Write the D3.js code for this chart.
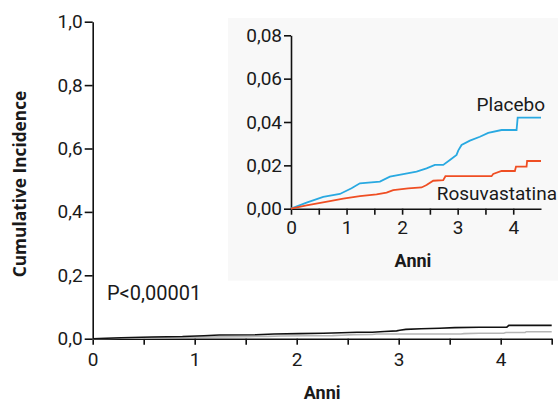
<!DOCTYPE html>
<html lang="it">
<head>
<meta charset="UTF-8">
<title>Cumulative Incidence</title>
<script src="https://d3js.org/d3.v7.min.js"></script>
<style>
    body { margin: 0; background: #fff; }
    text { font-family: Roboto, "Noto Sans", sans-serif; fill: #1a1a1a; }
    .axis path, .axis line { stroke: #111; }
    .axis text { font-size: 19px; fill: #1a1a1a; font-family: Roboto, sans-serif; }
    .title { font-weight: bold; font-size: 18px; }
    .label { font-size: 19px; }
</style>
</head>
<body>
<script>
    // anni / incidenza cumulativa
    var placeboT = [0, 0.28, 0.58, 0.88, 1.09, 1.24, 1.6, 1.78, 2.02, 2.26, 2.44, 2.59, 2.74, 2.86, 2.98, 3.01, 3.07, 3.22, 3.40, 3.55, 3.79, 4.06, 4.08, 4.5];
    var placeboV = [0, 0.0028, 0.0055, 0.0068, 0.0094, 0.0117, 0.0125, 0.0148, 0.016, 0.0171, 0.0186, 0.0202, 0.0202, 0.0225, 0.0248, 0.0268, 0.0294, 0.0314, 0.0332, 0.035, 0.0363, 0.0363, 0.042, 0.042];
    var rosuT = [0, 0.28, 0.7, 0.94, 1.24, 1.54, 1.72, 1.84, 2.11, 2.35, 2.44, 2.56, 2.74, 2.78, 3.61, 3.64, 3.79, 4.03, 4.05, 4.24, 4.25, 4.5];
    var rosuV = [0, 0.0015, 0.0035, 0.0046, 0.0058, 0.0066, 0.0074, 0.0086, 0.0094, 0.0098, 0.0109, 0.0129, 0.0132, 0.015, 0.015, 0.016, 0.0174, 0.0174, 0.0194, 0.0194, 0.022, 0.022];

    var xTicks = [0, 1, 2, 3, 4];
    var mainYTicks = [0, 0.2, 0.4, 0.6, 0.8, 1.0];
    var insetYTicks = [0, 0.02, 0.04, 0.06, 0.08];

    var placebo = placeboT.map(function (t, i) { return [t, placeboV[i]]; });
    var rosu = rosuT.map(function (t, i) { return [t, rosuV[i]]; });

    var fmt = function (d, n) { return d.toFixed(n).replace('.', ','); };

    var width = 558, height = 403;
    var svg = d3.select('body').append('svg')
        .attr('width', width)
        .attr('height', height);

    // ---- grafico principale
    var x = d3.scaleLinear().domain([0, 4.5]).range([92.7, 551.7]);
    var y = d3.scaleLinear().domain([0, 1]).range([338.7, 21.7]);

    var line = d3.line()
        .x(function (d) { return x(d[0]); })
        .y(function (d) { return y(d[1]); });

    svg.append('g')
        .attr('class', 'axis')
        .attr('transform', 'translate(0,' + y(0) + ')')
        .call(d3.axisBottom(x).tickValues(d3.range(0, 4.51, 0.5)).tickSize(6).tickSizeOuter(0).tickFormat(''))
        .call(function (g) { g.selectAll('path,line').attr('stroke-width', 1.6); });

    svg.append('g')
        .attr('class', 'axis')
        .attr('transform', 'translate(0,' + y(0) + ')')
        .call(d3.axisBottom(x).tickValues(xTicks).tickSize(0).tickPadding(14).tickFormat(function (d) { return d; }))
        .call(function (g) { g.select('.domain').remove(); });

    svg.append('g')
        .attr('class', 'axis')
        .attr('transform', 'translate(' + x(0) + ',0)')
        .call(d3.axisLeft(y).tickValues(mainYTicks).tickSize(8).tickPadding(2).tickSizeOuter(0)
            .tickFormat(function (d) { return fmt(d, 1); }))
        .call(function (g) { g.selectAll('path,line').attr('stroke-width', 1.6); });

    svg.append('path')
        .datum(rosu)
        .attr('d', line)
        .attr('fill', 'none')
        .attr('stroke', '#b5b5b5')
        .attr('stroke-width', 1.6);

    svg.append('path')
        .datum(placebo)
        .attr('d', line)
        .attr('fill', 'none')
        .attr('stroke', '#111')
        .attr('stroke-width', 1.6);

    svg.append('text')
        .attr('class', 'title')
        .attr('x', (x(0) + x(4.5)) / 2)
        .attr('y', 399)
        .attr('text-anchor', 'middle')
        .text('Anni');

    svg.append('text')
        .attr('class', 'title')
        .attr('transform', 'translate(26,184) rotate(-90)')
        .attr('text-anchor', 'middle')
        .style('font-family', '"Open Sans", sans-serif')
        .style('font-size', '17.3px')
        .text('Cumulative Incidence');

    svg.append('text')
        .attr('class', 'label')
        .attr('x', 107)
        .attr('y', 299.5)
        .style('font-size', '20px')
        .text('P<0,00001');

    // ---- riquadro
    svg.append('rect')
        .attr('x', 228)
        .attr('y', 18)
        .attr('width', width - 228)
        .attr('height', 262.7)
        .attr('fill', '#f8f8f8');

    var xi = d3.scaleLinear().domain([0, 4.5]).range([291, 541]);
    var yi = d3.scaleLinear().domain([0, 0.08]).range([208.7, 35.3]);

    var lineI = d3.line()
        .x(function (d) { return xi(d[0]); })
        .y(function (d) { return yi(d[1]); });

    svg.append('g')
        .attr('class', 'axis')
        .attr('transform', 'translate(0,' + yi(0) + ')')
        .call(d3.axisBottom(xi).tickValues(d3.range(0, 4.01, 0.5)).tickSize(6).tickSizeOuter(0).tickFormat(''))
        .call(function (g) { g.selectAll('path,line').attr('stroke-width', 1.6); });

    svg.append('g')
        .attr('class', 'axis')
        .attr('transform', 'translate(0,' + yi(0) + ')')
        .call(d3.axisBottom(xi).tickValues(xTicks).tickSize(0).tickPadding(12).tickFormat(function (d) { return d; }))
        .call(function (g) { g.select('.domain').remove(); });

    svg.append('g')
        .attr('class', 'axis')
        .attr('transform', 'translate(' + xi(0) + ',0)')
        .call(d3.axisLeft(yi).tickValues(insetYTicks).tickSize(7).tickPadding(2).tickSizeOuter(0)
            .tickFormat(function (d) { return fmt(d, 2); }))
        .call(function (g) { g.selectAll('path,line').attr('stroke-width', 1.6); });

    svg.append('path')
        .datum(placebo)
        .attr('d', lineI)
        .attr('fill', 'none')
        .attr('stroke', '#29a9e1')
        .attr('stroke-width', 1.8);

    svg.append('path')
        .datum(rosu)
        .attr('d', lineI)
        .attr('fill', 'none')
        .attr('stroke', '#ef4e23')
        .attr('stroke-width', 1.8);

    svg.append('text')
        .attr('class', 'label')
        .attr('x', 545)
        .attr('y', 110.5)
        .attr('text-anchor', 'end')
        .text('Placebo');

    svg.append('text')
        .attr('class', 'label')
        .attr('x', 557)
        .attr('y', 200)
        .attr('text-anchor', 'end')
        .text('Rosuvastatina');

    svg.append('text')
        .attr('class', 'title')
        .attr('x', 413)
        .attr('y', 267)
        .attr('text-anchor', 'middle')
        .text('Anni');
</script>
</body>
</html>
